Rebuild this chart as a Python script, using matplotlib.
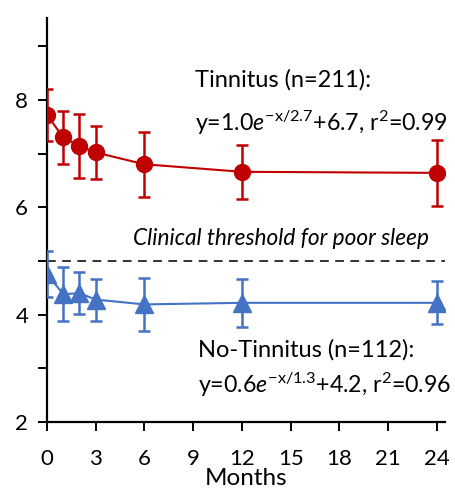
import matplotlib
matplotlib.use("Agg")
import matplotlib.pyplot as plt

plt.rcParams['font.family'] = ['Lato', 'DejaVu Sans']
plt.rcParams['mathtext.fontset'] = 'custom'
plt.rcParams['mathtext.rm'] = 'Lato'
plt.rcParams['mathtext.it'] = 'Lato:italic'
plt.rcParams['mathtext.bf'] = 'Lato:bold'

months = [0, 1, 2, 3, 6, 12, 24]
tinnitus_mean = [7.72, 7.30, 7.14, 7.02, 6.80, 6.66, 6.64]
tinnitus_err = [0.49, 0.50, 0.60, 0.50, 0.61, 0.50, 0.61]
no_tinnitus_mean = [4.76, 4.38, 4.40, 4.28, 4.19, 4.22, 4.22]
no_tinnitus_err = [0.43, 0.50, 0.39, 0.39, 0.50, 0.45, 0.40]
threshold = 5.0
xticks = [0, 3, 6, 9, 12, 15, 18, 21, 24]
yticks_major = [2, 4, 6, 8]
yticks_minor = [3, 5, 7, 9]

red = '#C00000'
blue = '#4472C4'

fig = plt.figure(figsize=(4.56, 4.93), dpi=100)
ax = fig.add_axes([0.103, 0.144, 0.873, 0.819])

ax.errorbar(months, tinnitus_mean, yerr=tinnitus_err, color=red, marker='o',
            markersize=11.5, linewidth=1.5, elinewidth=1.8, capsize=4, capthick=1.8,
            zorder=3)
ax.errorbar(months, no_tinnitus_mean, yerr=no_tinnitus_err, color=blue, marker='^',
            markersize=13.5, linewidth=1.5, elinewidth=1.8, capsize=4, capthick=1.8,
            zorder=3)
ax.axhline(threshold, color='#333333', linestyle=(0, (4.5, 3.3)), linewidth=1.4, zorder=2)

ax.set_xlim(0, 24.5)
ax.set_ylim(2, 9.52)
ax.set_xticks(xticks)
ax.set_yticks(yticks_major)
ax.set_yticks(yticks_minor, minor=True)
ax.tick_params(axis='both', which='both', direction='out', length=6.5, width=1.4,
               labelsize=16, color='black')
ax.tick_params(axis='y', pad=7)
ax.tick_params(axis='x', pad=13)
for s in ['top', 'right']:
    ax.spines[s].set_visible(False)
for s in ['left', 'bottom']:
    ax.spines[s].set_linewidth(1.6)
ax.set_xlabel('Months', fontsize=17.5, labelpad=-1)

ax.text(0.428, 0.838, 'Tinnitus (n=211):', transform=fig.transFigure, fontsize=17,
        va='center', ha='left')
ax.text(0.428, 0.750,
        r'y=1.0$\mathit{e}^{\mathregular{-x/2.7}}$+6.7, r$^{\mathregular{2}}$=0.99',
        transform=fig.transFigure, fontsize=16.7, va='center', ha='left')
ax.text(14.4, 5.42, 'Clinical threshold for poor sleep',
        fontsize=16.3, style='italic', ha='center', va='center')
ax.text(0.434, 0.290, 'No-Tinnitus (n=112):', transform=fig.transFigure, fontsize=17,
        va='center', ha='left')
ax.text(0.434, 0.219,
        r'y=0.6$\mathit{e}^{\mathregular{-x/1.3}}$+4.2, r$^{\mathregular{2}}$=0.96',
        transform=fig.transFigure, fontsize=16.7, va='center', ha='left')

fig.savefig('out.png', dpi=100)
